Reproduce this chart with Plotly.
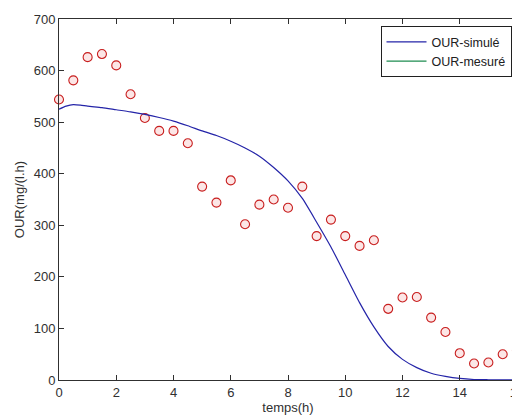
import plotly.graph_objects as go

# Simulated OUR (model curve)
t_sim = [0, 0.25, 0.5, 0.75, 1, 1.5, 2, 2.5, 3, 3.5, 4, 4.5, 5, 5.5, 6, 6.5, 7, 7.5,
         8, 8.5, 9, 9.5, 10, 10.5, 11, 11.5, 12, 12.5, 13, 13.5, 14, 14.5, 15, 15.5, 16]
our_sim = [525, 531, 534, 533, 531, 528, 524, 520, 515, 509, 502, 493, 483, 474, 463, 450,
           434, 412, 386, 352, 306, 258, 204, 150, 103, 65, 40, 24, 13, 7, 3, 1, 0.5, 0.3, 0.2]

# Measured OUR (circles)
t_mes = [0, 0.5, 1, 1.5, 2, 2.5, 3, 3.5, 4, 4.5, 5, 5.5, 6, 6.5, 7, 7.5, 8, 8.5,
         9, 9.5, 10, 10.5, 11, 11.5, 12, 12.5, 13, 13.5, 14, 14.5, 15, 15.5, 16]
our_mes = [544, 581, 626, 632, 610, 554, 508, 483, 483, 459, 375, 344, 387, 302, 340, 350,
           334, 375, 279, 311, 279, 260, 271, 138, 160, 161, 121, 93, 52, 32, 34, 50, 57]

x_ticks = [0, 2, 4, 6, 8, 10, 12, 14, 16]
y_ticks = [0, 100, 200, 300, 400, 500, 600, 700]

font = "Liberation Sans, Arial, sans-serif"

fig = go.Figure()
fig.add_trace(go.Scatter(
    x=t_mes, y=our_mes, mode="markers", showlegend=False,
    marker=dict(symbol="circle", size=9, color="#fce6e6",
                line=dict(color="#c81e1e", width=1.1)),
    cliponaxis=False,
))
fig.add_trace(go.Scatter(
    x=t_sim, y=our_sim, mode="lines", name="OUR-simulé",
    line=dict(color="#2424a8", width=1.2, shape="spline", smoothing=0.6),
    cliponaxis=False,
))
fig.add_trace(go.Scatter(
    x=[None], y=[None], mode="lines", name="OUR-mesuré",
    line=dict(color="#1e8c50", width=1.2),
))

axis_common = dict(
    showline=True, linecolor="#303030", linewidth=1, mirror="ticks",
    ticks="inside", ticklen=5, tickcolor="#303030",
    showgrid=False, zeroline=False, automargin=False,
    ticklabeloverflow="allow",
    tickfont=dict(family=font, size=13, color="#303030"),
)

# The page body adds an 8px offset, so the figure is sized to fill the rest of the window.
fig.update_layout(
    width=512, height=409,
    margin=dict(l=51, r=3, t=11, b=37),
    paper_bgcolor="white", plot_bgcolor="white",
    font=dict(family=font, size=13, color="#303030"),
    xaxis=dict(range=[0, 16], tickvals=x_ticks, ticktext=[str(v) for v in x_ticks],
               title=dict(text="temps(h)", font=dict(size=13), standoff=0), **axis_common),
    yaxis=dict(range=[0, 700], tickvals=y_ticks, ticktext=[str(v) for v in y_ticks],
               title=dict(text="OUR(mg/(l.h)", font=dict(size=13), standoff=6), **axis_common),
    legend=dict(x=0.988, y=0.98, xanchor="right", yanchor="top",
                bgcolor="white", bordercolor="#202020", borderwidth=1,
                font=dict(family=font, size=12.5, color="#202020"),
                tracegroupgap=0, itemwidth=40),
)

fig.write_html("out.html")
